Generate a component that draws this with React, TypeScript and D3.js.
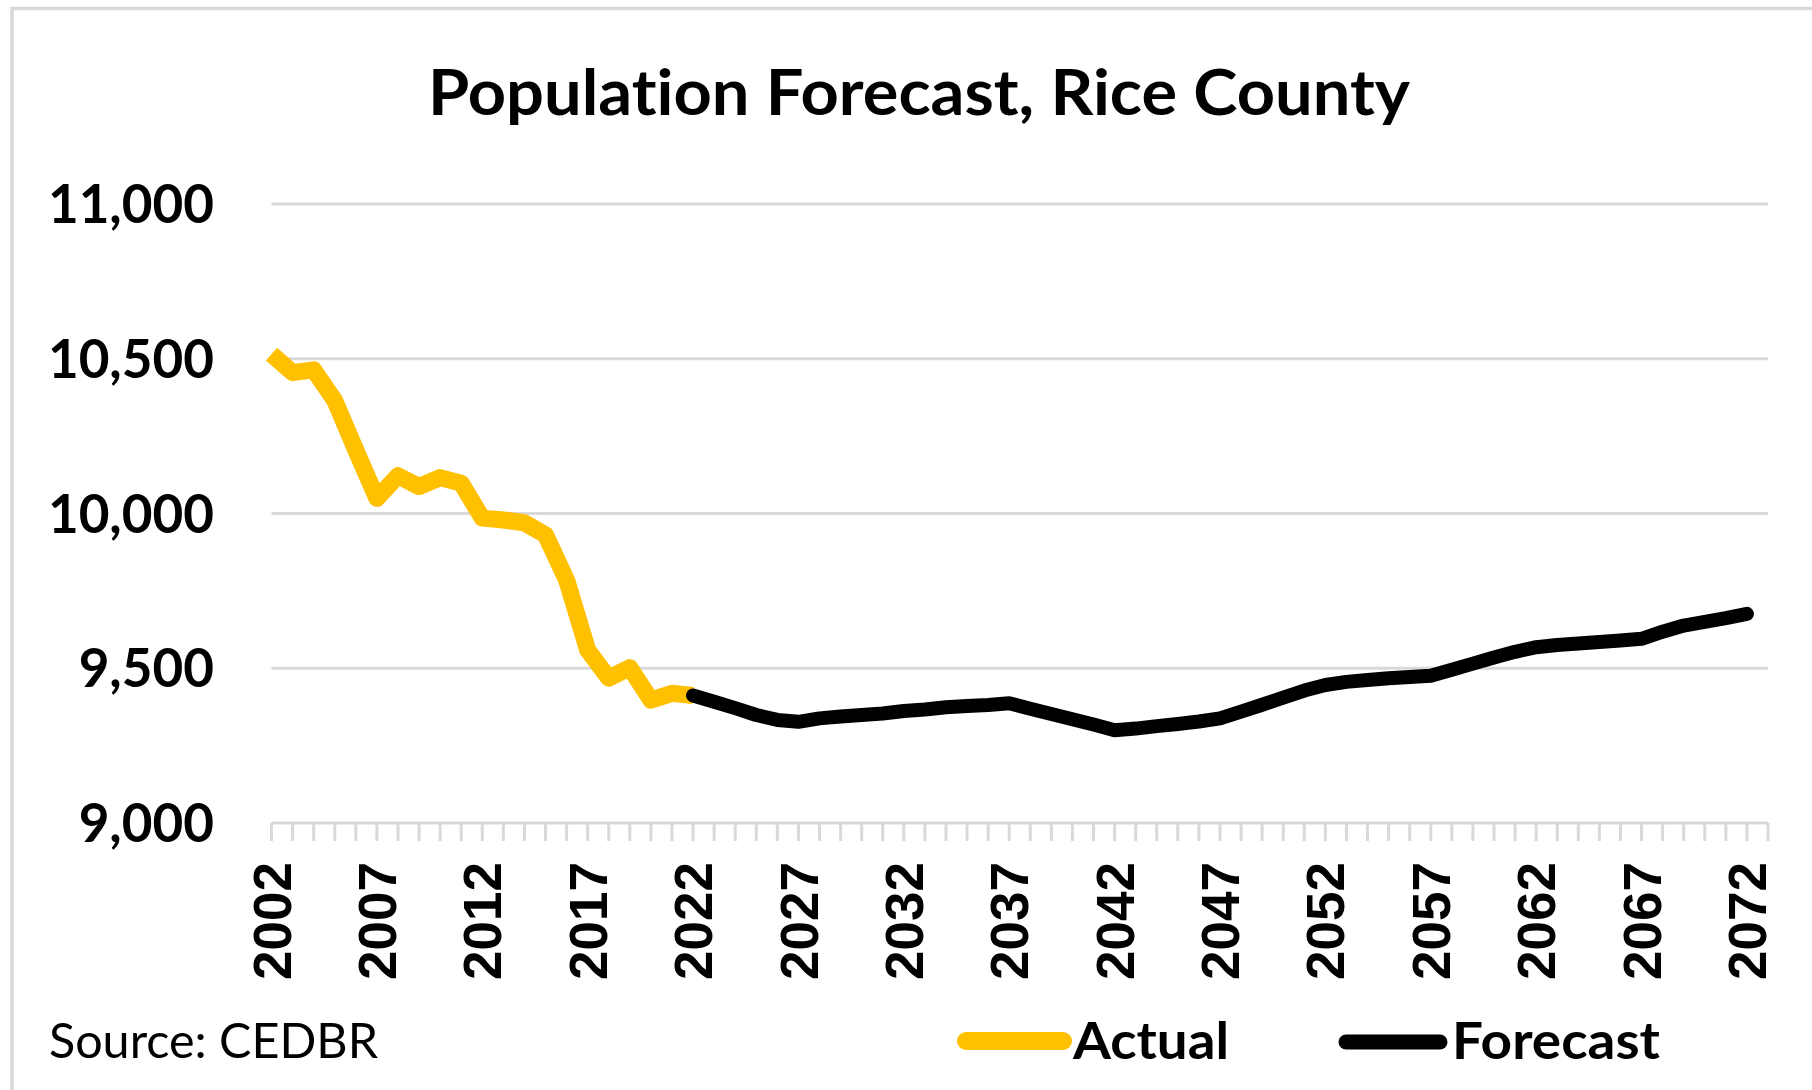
import React from "react";
import * as d3 from "d3";

// Rice County population, actual 2002-2022 and forecast 2022-2072
const actualStart = 2002;
const actualValues = [
  10515, 10455, 10464, 10365, 10205, 10049, 10122, 10087, 10116, 10098,
  9985, 9979, 9970, 9931, 9785, 9559, 9468, 9502, 9397, 9419, 9412,
];

const forecastStart = 2022;
const forecastValues = [
  9412, 9392, 9371, 9349, 9333, 9327, 9338, 9344, 9349, 9354,
  9362, 9367, 9374, 9378, 9381, 9387, 9369, 9352, 9335, 9318,
  9300, 9305, 9313, 9320, 9328, 9338, 9360, 9382, 9405, 9428,
  9446, 9456, 9462, 9468, 9472, 9476, 9495, 9515, 9535, 9553,
  9568, 9575, 9580, 9585, 9590, 9595, 9618, 9638, 9650, 9662,
  9676,
];

const yTicks = [9000, 9500, 10000, 10500, 11000];
const xLabelYears = d3.range(2002, 2073, 5);
const axisYears = d3.range(2002, 2074);

const W = 1812, H = 1090;
const GOLD = "#FFC000";
const GRID = "#d9d9d9";
const noLig = { fontVariantLigatures: "none" } as React.CSSProperties;

export default function App() {
  const x = d3.scaleLinear().domain([2002, 2073]).range([271.5, 1768]);
  const y = d3.scaleLinear().domain([9000, 11000]).range([823, 204]);

  const actual = actualValues.map((v, i) => ({ year: actualStart + i, v }));
  const forecast = forecastValues.map((v, i) => ({ year: forecastStart + i, v }));

  const line = d3.line<{ year: number; v: number }>()
    .x(d => x(d.year))
    .y(d => y(d.v));

  const fmt = d3.format(",");

  return (
    <div style={{ position: "fixed", left: 0, top: 0 }}>
      <svg width={W} height={H} style={{ display: "block", background: "#fff" }}>
        <rect x={12} y={8.5} width={W + 20} height={H + 20} fill="#fff" stroke={GRID} strokeWidth={3.5} />

        <text x={428} y={115} fontFamily="Lato" fontWeight={700} fontSize={64} style={noLig}
          textLength={982} lengthAdjust="spacingAndGlyphs">
          Population Forecast, Rice County
        </text>

        {yTicks.map(t => (
          <g key={t}>
            <line x1={271.5} x2={1768} y1={y(t)} y2={y(t)} stroke={GRID} strokeWidth={3} />
            <text x={214} y={y(t)} dy="0.36em" textAnchor="end" fontFamily="Lato" fontWeight={700} fontSize={53}>
              {fmt(t)}
            </text>
          </g>
        ))}

        {axisYears.map(yr => (
          <line key={yr} x1={x(yr)} x2={x(yr)} y1={y(9000)} y2={y(9000) + 18} stroke={GRID} strokeWidth={3} />
        ))}

        {xLabelYears.map(yr => (
          <text
            key={yr}
            transform={`translate(${x(yr)},862) rotate(-90)`}
            dy="0.36em"
            textAnchor="end"
            fontFamily="Liberation Sans"
            fontWeight={700}
            fontSize={53}
          >
            {yr}
          </text>
        ))}

        <path d={line(actual) ?? ""} fill="none" stroke={GOLD} strokeWidth={17} strokeLinejoin="round" />
        <path d={line(forecast) ?? ""} fill="none" stroke="#000" strokeWidth={14} strokeLinejoin="round" strokeLinecap="round" />

        <text x={49} y={1058} fontFamily="Lato" fontSize={49} textLength={329} lengthAdjust="spacingAndGlyphs">
          Source: CEDBR
        </text>

        <line x1={966} x2={1063} y1={1041} y2={1041} stroke={GOLD} strokeWidth={18} strokeLinecap="round" />
        <text x={1073} y={1059} fontFamily="Lato" fontWeight={700} fontSize={51} textLength={156} lengthAdjust="spacingAndGlyphs">
          Actual
        </text>
        <line x1={1346} x2={1440} y1={1042} y2={1042} stroke="#000" strokeWidth={15} strokeLinecap="round" />
        <text x={1452} y={1059} fontFamily="Lato" fontWeight={700} fontSize={51} textLength={208} lengthAdjust="spacingAndGlyphs">
          Forecast
        </text>
      </svg>
    </div>
  );
}
